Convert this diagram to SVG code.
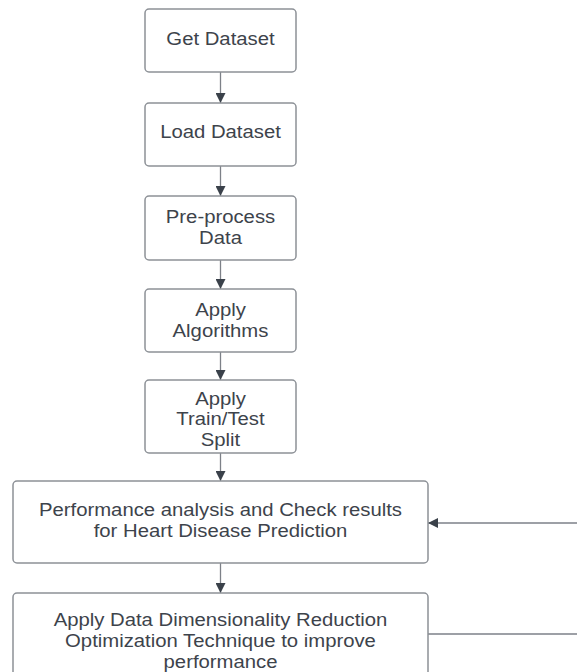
<svg xmlns="http://www.w3.org/2000/svg" width="577" height="672" viewBox="0 0 577 672">
  <defs>
    <marker id="arrow" viewBox="0 0 10 10" refX="10" refY="5" markerWidth="10" markerHeight="10" markerUnits="userSpaceOnUse" orient="auto">
      <path d="M0,0 L10,5 L0,10 Z" fill="#3a414a"/>
    </marker>
    <style>
      .box { fill: #ffffff; stroke: #8d9197; stroke-width: 1.5; }
      .lbl { font-family: "Liberation Sans", Arial, sans-serif; font-size: 17.5px; fill: #3d434b; text-anchor: middle; }
      .conn { stroke: #7d8188; stroke-width: 1.3; fill: none; }
    </style>
  </defs>
  <rect width="577" height="672" fill="#ffffff"/>

  <g id="connectors">
    <line class="conn" x1="220.5" y1="72" x2="220.5" y2="103" marker-end="url(#arrow)"/>
    <line class="conn" x1="220.5" y1="166" x2="220.5" y2="196" marker-end="url(#arrow)"/>
    <line class="conn" x1="220.5" y1="260" x2="220.5" y2="289" marker-end="url(#arrow)"/>
    <line class="conn" x1="220.5" y1="352" x2="220.5" y2="380" marker-end="url(#arrow)"/>
    <line class="conn" x1="220.5" y1="453" x2="220.5" y2="481" marker-end="url(#arrow)"/>
    <line class="conn" x1="220.5" y1="563" x2="220.5" y2="593" marker-end="url(#arrow)"/>
    <line class="conn" x1="577" y1="523" x2="428" y2="523" marker-end="url(#arrow)"/>
    <line class="conn" x1="428" y1="634" x2="577" y2="634"/>
  </g>

  <g id="get-dataset">
    <rect class="box" x="145" y="9" width="151" height="63" rx="4"/>
    <text class="lbl" transform="translate(220.5 0) scale(1.16 1)" x="0" y="45.5">Get Dataset</text>
  </g>

  <g id="load-dataset">
    <rect class="box" x="145" y="103" width="151" height="63" rx="4"/>
    <text class="lbl" transform="translate(220.5 0) scale(1.16 1)" x="0" y="138">Load Dataset</text>
  </g>

  <g id="preprocess-data">
    <rect class="box" x="145" y="196" width="151" height="64" rx="4"/>
    <text class="lbl" transform="translate(220.5 0) scale(1.16 1)" x="0" y="223.5">Pre-process</text>
    <text class="lbl" transform="translate(220.5 0) scale(1.16 1)" x="0" y="244.5">Data</text>
  </g>

  <g id="apply-algorithms">
    <rect class="box" x="145" y="289" width="151" height="63" rx="4"/>
    <text class="lbl" transform="translate(220.5 0) scale(1.16 1)" x="0" y="316">Apply</text>
    <text class="lbl" transform="translate(220.5 0) scale(1.16 1)" x="0" y="337">Algorithms</text>
  </g>

  <g id="train-test-split">
    <rect class="box" x="145" y="380" width="151" height="73" rx="4"/>
    <text class="lbl" transform="translate(220.5 0) scale(1.16 1)" x="0" y="405">Apply</text>
    <text class="lbl" transform="translate(220.5 0) scale(1.16 1)" x="0" y="425.5">Train/Test</text>
    <text class="lbl" transform="translate(220.5 0) scale(1.16 1)" x="0" y="446">Split</text>
  </g>

  <g id="performance-analysis">
    <rect class="box" x="13" y="481" width="415" height="82" rx="4"/>
    <text class="lbl" transform="translate(220.5 0) scale(1.16 1)" x="0" y="516.5">Performance analysis and Check results</text>
    <text class="lbl" transform="translate(220.5 0) scale(1.16 1)" x="0" y="537.5">for Heart Disease Prediction</text>
  </g>

  <g id="dimensionality-reduction">
    <rect class="box" x="13" y="593" width="415" height="100" rx="4"/>
    <text class="lbl" transform="translate(220.5 0) scale(1.16 1)" x="0" y="626">Apply Data Dimensionality Reduction</text>
    <text class="lbl" transform="translate(220.5 0) scale(1.16 1)" x="0" y="647">Optimization Technique to improve</text>
    <text class="lbl" transform="translate(220.5 0) scale(1.16 1)" x="0" y="668">performance</text>
  </g>
</svg>
